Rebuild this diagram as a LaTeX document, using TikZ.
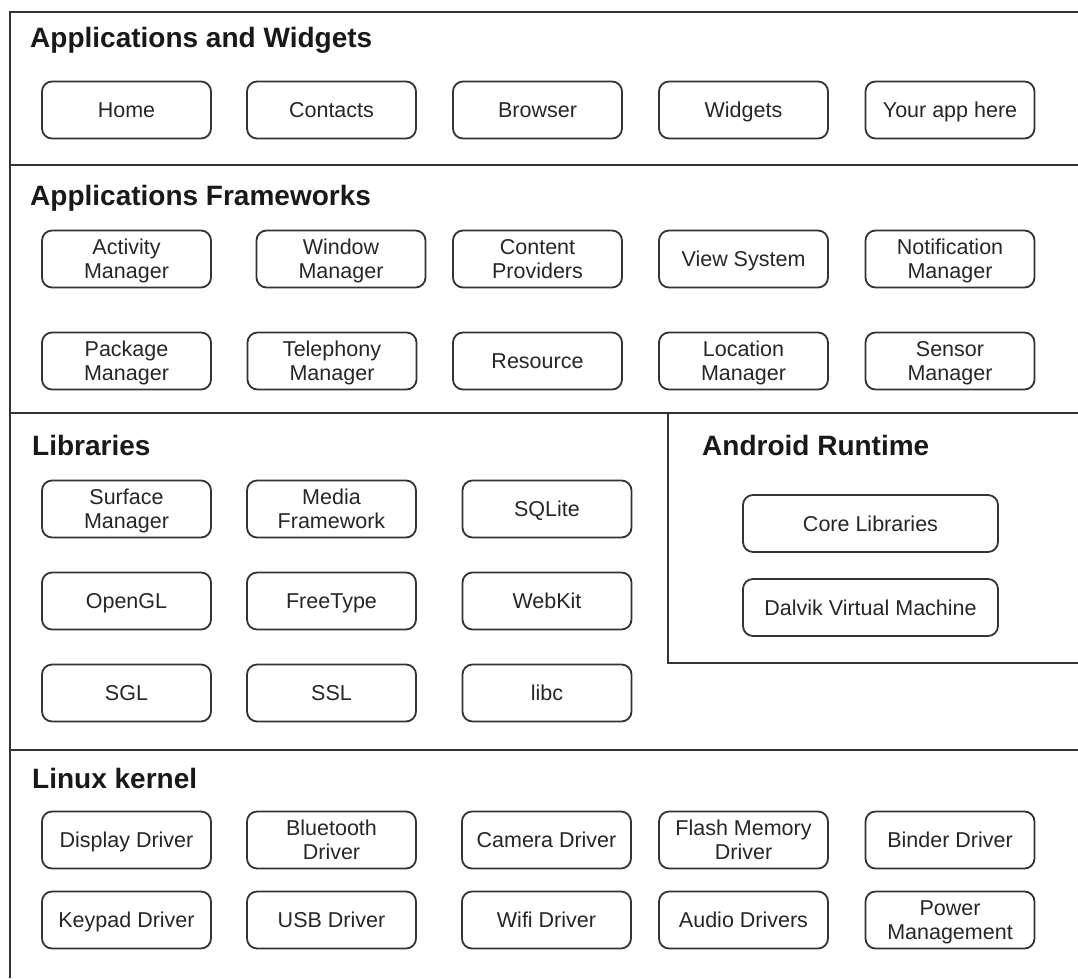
\documentclass[tikz,border=0pt]{standalone}
\usepackage{fontspec}
\setmainfont{Liberation Sans}
\begin{document}
\begin{tikzpicture}[x=1pt,y=-1pt,
  frameline/.style={draw=black!80, line width=2pt},
  box/.style={draw=black!80, line width=1.8pt, rounded corners=10pt, minimum width=169pt, minimum height=57pt, inner sep=1pt, align=center, font=\fontsize{21.5}{24.5}\selectfont, text=black!85, text height=15.4pt, text depth=0pt},
  two/.style={text height=39.9pt, text depth=0pt},
  widebox/.style={box, minimum width=255pt},
  layertitle/.style={anchor=base west, inner sep=0pt, font=\fontsize{28}{30}\selectfont\bfseries, text=black!90}
]
\useasboundingbox (0,0) rectangle (1078,978);
% frame lines
\coordinate (tl) at (10,12);
\coordinate (tr) at (1078,12);
\coordinate (bl) at (10,978);
\draw[frameline] (bl) -- (tl) -- (tr);
\coordinate (l1) at (10,165); \coordinate (r1) at (1078,165);
\coordinate (l2) at (10,413); \coordinate (r2) at (1078,413);
\coordinate (l3) at (10,750); \coordinate (r3) at (1078,750);
\draw[frameline] (l1) -- (r1);
\draw[frameline] (l2) -- (r2);
\draw[frameline] (l3) -- (r3);
\coordinate (rt1) at (668,413); \coordinate (rt2) at (668,663); \coordinate (rt3) at (1078,663);
\draw[frameline] (rt1) -- (rt2) -- (rt3);
% titles
\node[layertitle] (t1) at (30,47) {Applications and Widgets};
\node[layertitle] (t2) at (30,205) {Applications Frameworks};
\node[layertitle] (t3) at (32,455) {Libraries};
\node[layertitle] (t4) at (702,455) {Android Runtime};
\node[layertitle] (t5) at (32,788) {Linux kernel};
% row 1
\node[box] (home) at (126.5,110) {Home};
\node[box] (contacts) at (331.5,110) {Contacts};
\node[box] (browser) at (537.5,110) {Browser};
\node[box] (widgets) at (743.5,110) {Widgets};
\node[box] (yourapp) at (950,110) {Your app here};
% frameworks
\node[box,two] (activity) at (126.5,259) {Activity\\Manager};
\node[box,two] (window) at (341,259) {Window\\Manager};
\node[box,two] (content) at (537.5,259) {Content\\Providers};
\node[box] (view) at (743.5,259) {View System};
\node[box,two] (notif) at (950,259) {Notification\\Manager};
\node[box,two] (package) at (126.5,361) {Package\\Manager};
\node[box,two] (telephony) at (332,361) {Telephony\\Manager};
\node[box] (resource) at (537.5,361) {Resource};
\node[box,two] (location) at (743.5,361) {Location\\Manager};
\node[box,two] (sensor) at (950,361) {Sensor\\Manager};
% libraries
\node[box,two] (surface) at (126.5,509) {Surface\\Manager};
\node[box,two] (media) at (331.5,509) {Media\\Framework};
\node[box] (sqlite) at (547,509) {SQLite};
\node[box] (opengl) at (126.5,601) {OpenGL};
\node[box] (freetype) at (331.5,601) {FreeType};
\node[box] (webkit) at (547,601) {WebKit};
\node[box] (sgl) at (126.5,693) {SGL};
\node[box] (ssl) at (331.5,693) {SSL};
\node[box] (libc) at (547,693) {libc};
% runtime
\node[widebox] (core) at (870.5,523.5) {Core Libraries};
\node[widebox] (dalvik) at (870.5,607.5) {Dalvik Virtual Machine};
% kernel
\node[box] (display) at (126.5,840) {Display Driver};
\node[box,two] (bluetooth) at (331.5,840) {Bluetooth\\Driver};
\node[box] (camera) at (546.5,840) {Camera Driver};
\node[box,two] (flash) at (743.5,840) {Flash Memory\\Driver};
\node[box] (binder) at (950,840) {Binder Driver};
\node[box] (keypad) at (126.5,920) {Keypad Driver};
\node[box] (usb) at (331.5,920) {USB Driver};
\node[box] (wifi) at (546.5,920) {Wifi Driver};
\node[box] (audio) at (743.5,920) {Audio Drivers};
\node[box,two] (power) at (950,920) {Power\\Management};
\end{tikzpicture}
\end{document}
